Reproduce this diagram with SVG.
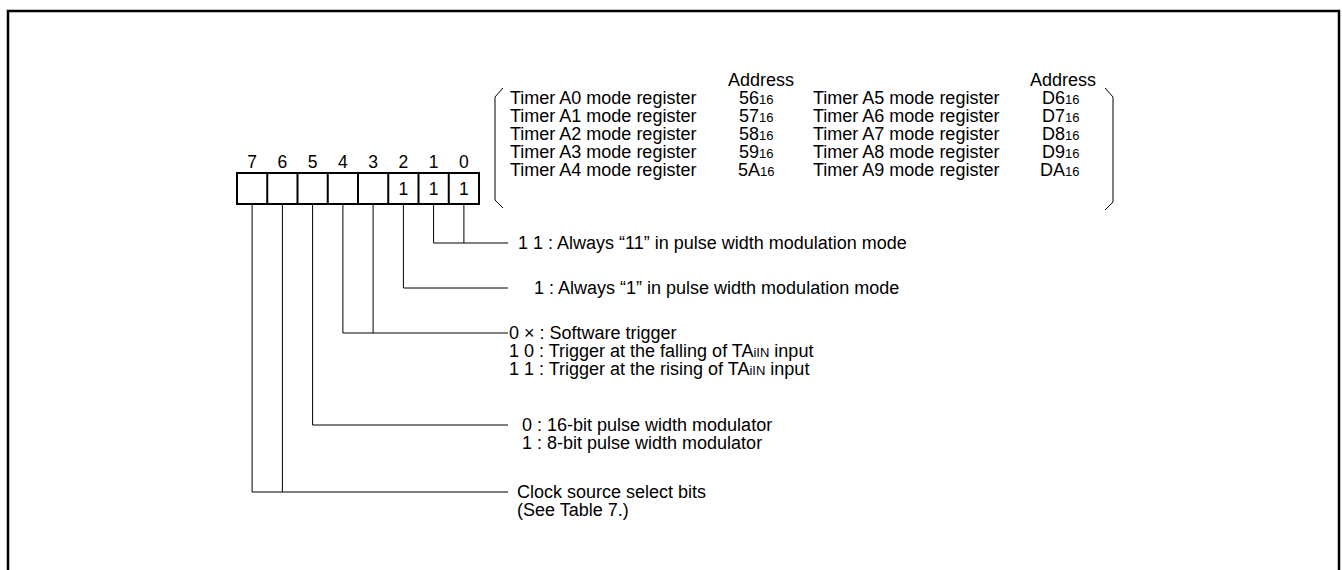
<svg xmlns="http://www.w3.org/2000/svg" width="1342" height="570" viewBox="0 0 1342 570">
<style>
text{font-family:"Liberation Sans",Arial,sans-serif;fill:#000}
.t{font-size:18px}
.d{font-size:18px}
.b{font-size:17.5px;text-anchor:middle}
.s{font-size:13px}
.c{fill:none;stroke:#000;stroke-width:1}
.box{fill:#fff;stroke:#000;stroke-width:2}
</style>
<rect width="1342" height="570" fill="#fff"/>
<path d="M8,570 V11 H1339 V570" fill="none" stroke="#000" stroke-width="2.5"/>

<g id="register">
<g class="b">
<text x="252" y="168">7</text><text x="282.4" y="168">6</text><text x="312.6" y="168">5</text><text x="342.9" y="168">4</text>
<text x="373.1" y="168">3</text><text x="403.4" y="168">2</text><text x="433.6" y="168">1</text><text x="463.9" y="168">0</text>
</g>
<rect class="box" x="237" y="173" width="242" height="31"/>
<path d="M267.25,173V204M297.5,173V204M327.75,173V204M358,173V204M388.25,173V204M418.5,173V204M448.75,173V204" stroke="#000" stroke-width="2"/>
<g class="b">
<text x="403.4" y="195">1</text><text x="433.6" y="195">1</text><text x="463.9" y="195">1</text>
</g>
</g>

<g id="address-table">
<path class="c" d="M503,88 L495,97 V200 L503,208"/>
<path class="c" d="M1105,88 L1113,97 V202 L1105,210"/>
<text class="t" x="728" y="86">Address</text>
<text class="t" x="1030" y="86">Address</text>
<text class="t" x="510" y="104">Timer A0 mode register</text>
<text class="t" x="510" y="122">Timer A1 mode register</text>
<text class="t" x="510" y="140">Timer A2 mode register</text>
<text class="t" x="510" y="158">Timer A3 mode register</text>
<text class="t" x="510" y="176">Timer A4 mode register</text>
<text class="t" x="739" y="104">56<tspan class="s">16</tspan></text>
<text class="t" x="739" y="122">57<tspan class="s">16</tspan></text>
<text class="t" x="739" y="140">58<tspan class="s">16</tspan></text>
<text class="t" x="739" y="158">59<tspan class="s">16</tspan></text>
<text class="t" x="738" y="176">5A<tspan class="s">16</tspan></text>
<text class="t" x="813" y="104">Timer A5 mode register</text>
<text class="t" x="813" y="122">Timer A6 mode register</text>
<text class="t" x="813" y="140">Timer A7 mode register</text>
<text class="t" x="813" y="158">Timer A8 mode register</text>
<text class="t" x="813" y="176">Timer A9 mode register</text>
<text class="t" x="1042" y="104">D6<tspan class="s">16</tspan></text>
<text class="t" x="1042" y="122">D7<tspan class="s">16</tspan></text>
<text class="t" x="1042" y="140">D8<tspan class="s">16</tspan></text>
<text class="t" x="1042" y="158">D9<tspan class="s">16</tspan></text>
<text class="t" x="1040" y="176">DA<tspan class="s">16</tspan></text>
</g>

<g id="connectors">
<path class="c" d="M433.6,204V243H508M463.9,204V243"/>
<path class="c" d="M403.4,204V288H508"/>
<path class="c" d="M342.9,204V333H508M373.1,204V333"/>
<path class="c" d="M312.6,204V425H508"/>
<path class="c" d="M252.1,204V492H508M282.4,204V492"/>
</g>

<g id="bits-1-0">
<text class="d" x="518" y="249">1 1 : Always “11” in pulse width modulation mode</text>
</g>
<g id="bit-2">
<text class="d" x="534" y="294">1 : Always “1” in pulse width modulation mode</text>
</g>
<g id="bits-4-3">
<text class="d" x="509" y="339">0 × : Software trigger</text>
<text class="d" x="509" y="357">1 0 : Trigger at the falling of TA<tspan class="s">iIN</tspan> input</text>
<text class="d" x="509" y="375">1 1 : Trigger at the rising of TA<tspan class="s">iIN</tspan> input</text>
</g>
<g id="bit-5">
<text class="d" x="522" y="431">0 : 16-bit pulse width modulator</text>
<text class="d" x="522" y="449">1 : 8-bit pulse width modulator</text>
</g>
<g id="bits-7-6">
<text class="d" x="517" y="498">Clock source select bits</text>
<text class="d" x="517" y="516">(See Table 7.)</text>
</g>
</svg>
